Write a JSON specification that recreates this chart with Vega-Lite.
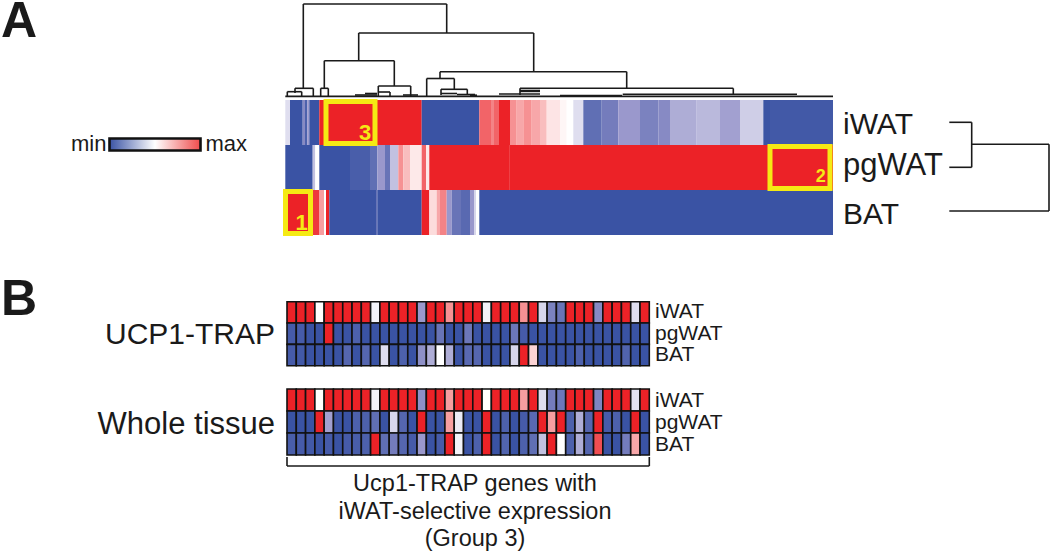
{"$schema":"https://vega.github.io/schema/vega-lite/v6.json","width":1050,"height":551,"padding":0,"autosize":{"type":"none"},"background":"white","config":{"view":{"stroke":null},"text":{"font":"Liberation Sans"}},
"datasets":{
"clusterHeatmap":[
{"tissue":"iWAT","start":-0.7,"end":4,"value":0.42},{"tissue":"iWAT","start":4,"end":16.7,"value":0},{"tissue":"iWAT","start":16.7,"end":19,"value":0.2},{"tissue":"iWAT","start":19,"end":21.3,"value":0.05},{"tissue":"iWAT","start":21.3,"end":23.3,"value":0.25},{"tissue":"iWAT","start":23.3,"end":33.3,"value":0},{"tissue":"iWAT","start":33.3,"end":135.7,"value":1},{"tissue":"iWAT","start":135.7,"end":193.3,"value":0},{"tissue":"iWAT","start":193.3,"end":205,"value":0.85},{"tissue":"iWAT","start":205,"end":208,"value":0.78},{"tissue":"iWAT","start":208,"end":213,"value":0.85},{"tissue":"iWAT","start":213,"end":224,"value":1},{"tissue":"iWAT","start":224,"end":230.7,"value":0.75},{"tissue":"iWAT","start":230.7,"end":237.3,"value":0.7},{"tissue":"iWAT","start":237.3,"end":245.7,"value":0.75},{"tissue":"iWAT","start":245.7,"end":254,"value":0.7},{"tissue":"iWAT","start":254,"end":260.7,"value":0.65},{"tissue":"iWAT","start":260.7,"end":274,"value":0.56},{"tissue":"iWAT","start":274,"end":280.7,"value":0.52},{"tissue":"iWAT","start":280.7,"end":287.3,"value":0.5},{"tissue":"iWAT","start":287.3,"end":297.3,"value":0.42},{"tissue":"iWAT","start":297.3,"end":315.7,"value":0.1},{"tissue":"iWAT","start":315.7,"end":332.3,"value":0.15},{"tissue":"iWAT","start":332.3,"end":354,"value":0.25},{"tissue":"iWAT","start":354,"end":372.3,"value":0.17},{"tissue":"iWAT","start":372.3,"end":384,"value":0.2},{"tissue":"iWAT","start":384,"end":410.7,"value":0.3},{"tissue":"iWAT","start":410.7,"end":434,"value":0.33},{"tissue":"iWAT","start":434,"end":454,"value":0.27},{"tissue":"iWAT","start":454,"end":477.3,"value":0.38},{"tissue":"iWAT","start":477.3,"end":484,"value":0},{"tissue":"iWAT","start":484,"end":547,"value":0.02},
{"tissue":"pgWAT","start":-0.7,"end":26.7,"value":0},{"tissue":"pgWAT","start":26.7,"end":29.3,"value":0.35},{"tissue":"pgWAT","start":29.3,"end":33.3,"value":0.5},{"tissue":"pgWAT","start":33.3,"end":64,"value":0},{"tissue":"pgWAT","start":64,"end":84,"value":0.04},{"tissue":"pgWAT","start":84,"end":91.3,"value":0.1},{"tissue":"pgWAT","start":91.3,"end":99,"value":0.25},{"tissue":"pgWAT","start":99,"end":104,"value":0.12},{"tissue":"pgWAT","start":104,"end":112.3,"value":0.35},{"tissue":"pgWAT","start":112.3,"end":117.3,"value":0.75},{"tissue":"pgWAT","start":117.3,"end":124,"value":0.65},{"tissue":"pgWAT","start":124,"end":135.7,"value":0.55},{"tissue":"pgWAT","start":135.7,"end":140,"value":0.85},{"tissue":"pgWAT","start":140,"end":143.3,"value":0.55},{"tissue":"pgWAT","start":143.3,"end":223,"value":1},{"tissue":"pgWAT","start":223,"end":224,"value":0.93},{"tissue":"pgWAT","start":224,"end":547,"value":1},
{"tissue":"BAT","start":-0.7,"end":26.7,"value":1},{"tissue":"BAT","start":26.7,"end":33,"value":0.95},{"tissue":"BAT","start":33,"end":38,"value":0.72},{"tissue":"BAT","start":38,"end":40,"value":0.5},{"tissue":"BAT","start":40,"end":43.3,"value":1},{"tissue":"BAT","start":43.3,"end":90,"value":0},{"tissue":"BAT","start":90,"end":91.3,"value":0.12},{"tissue":"BAT","start":91.3,"end":135.7,"value":0},{"tissue":"BAT","start":135.7,"end":143.3,"value":1},{"tissue":"BAT","start":143.3,"end":150.7,"value":0.58},{"tissue":"BAT","start":150.7,"end":154,"value":0.7},{"tissue":"BAT","start":154,"end":160.7,"value":0.78},{"tissue":"BAT","start":160.7,"end":165.7,"value":0.25},{"tissue":"BAT","start":165.7,"end":175,"value":0.12},{"tissue":"BAT","start":175,"end":184,"value":0.08},{"tissue":"BAT","start":184,"end":188,"value":0.25},{"tissue":"BAT","start":188,"end":190,"value":0.4},{"tissue":"BAT","start":190,"end":193.3,"value":0.5},{"tissue":"BAT","start":193.3,"end":547,"value":0}],
"geneDendrogram":[
{"a":17.3,"b":160.7,"h1":93,"h2":93},{"a":17.3,"b":17.3,"h1":93,"h2":9},{"a":160.7,"b":160.7,"h1":93,"h2":64},{"a":72.7,"b":247.7,"h1":64,"h2":64},{"a":72.7,"b":72.7,"h1":64,"h2":36.3},{"a":247.7,"b":247.7,"h1":64,"h2":25.3},{"a":38.3,"b":108.3,"h1":36.3,"h2":36.3},{"a":38.3,"b":38.3,"h1":36.3,"h2":9},{"a":108.3,"b":108.3,"h1":36.3,"h2":11},{"a":92.3,"b":124.7,"h1":11,"h2":11},{"a":92.3,"b":92.3,"h1":11,"h2":1},{"a":124.7,"b":124.7,"h1":11,"h2":1},{"a":92.3,"b":104,"h1":5,"h2":5},{"a":104,"b":104,"h1":5,"h2":1},
{"a":154,"b":340.7,"h1":25.3,"h2":25.3},{"a":154,"b":154,"h1":25.3,"h2":18.5},{"a":140.7,"b":168.3,"h1":18.5,"h2":18.5},{"a":140.7,"b":140.7,"h1":18.5,"h2":1},{"a":168.3,"b":168.3,"h1":18.5,"h2":7.7},{"a":155,"b":181.3,"h1":7.7,"h2":7.7},{"a":155,"b":155,"h1":7.7,"h2":2},{"a":181.3,"b":181.3,"h1":7.7,"h2":2},{"a":340.7,"b":340.7,"h1":25.3,"h2":8.7},{"a":234,"b":447.3,"h1":8.7,"h2":8.7},{"a":234,"b":234,"h1":8.7,"h2":2},{"a":447.3,"b":447.3,"h1":8.7,"h2":3},{"a":336.7,"b":511,"h1":2.8,"h2":2.8},{"a":274,"b":336,"h1":1.4,"h2":1.4},
{"a":9,"b":27.3,"h1":8.7,"h2":8.7},{"a":9,"b":9,"h1":8.7,"h2":4},{"a":27.3,"b":27.3,"h1":8.7,"h2":1},{"a":1.3,"b":15.7,"h1":5.3,"h2":5.3},{"a":1.3,"b":1.3,"h1":5.3,"h2":1},{"a":15.7,"b":15.7,"h1":5.3,"h2":1},{"a":34.7,"b":42.3,"h1":8.7,"h2":8.7},{"a":34.7,"b":34.7,"h1":8.7,"h2":1},{"a":42.3,"b":42.3,"h1":8.7,"h2":1},
{"a":69,"b":91,"h1":2,"h2":2},{"a":79,"b":91,"h1":3.5,"h2":3.5},{"a":117,"b":132,"h1":2,"h2":2},{"a":155,"b":171,"h1":3.5,"h2":3.5},{"a":171,"b":189,"h1":2.5,"h2":2.5},{"a":184,"b":191,"h1":1.8,"h2":1.8},{"a":213,"b":254,"h1":3,"h2":3},{"a":234,"b":254,"h1":6.5,"h2":6.5},{"a":234,"b":254,"h1":5.6,"h2":5.6},{"a":-0.7,"b":547,"h1":0.6,"h2":0.6}],
"tissueDendrogram":[{"tissue":"iWAT","a":0,"b":22.4,"y1":0,"y2":0},{"tissue":"pgWAT","a":0,"b":22.4,"y1":45,"y2":45},{"tissue":"join","a":22.4,"b":22.4,"y1":0,"y2":45},{"tissue":"join","a":22.4,"b":99.7,"y1":22,"y2":22},{"tissue":"join","a":99.7,"b":99.7,"y1":22,"y2":88.7},{"tissue":"BAT","a":0,"b":99.7,"y1":88.7,"y2":88.7}],
"ucp1Trap":[
{"tissue":"iWAT","gene":1,"value":1},{"tissue":"iWAT","gene":2,"value":1},{"tissue":"iWAT","gene":3,"value":1},{"tissue":"iWAT","gene":4,"value":0.5},{"tissue":"iWAT","gene":5,"value":1},{"tissue":"iWAT","gene":6,"value":1},{"tissue":"iWAT","gene":7,"value":1},{"tissue":"iWAT","gene":8,"value":1},{"tissue":"iWAT","gene":9,"value":1},{"tissue":"iWAT","gene":10,"value":0.47},{"tissue":"iWAT","gene":11,"value":1},{"tissue":"iWAT","gene":12,"value":1},{"tissue":"iWAT","gene":13,"value":1},{"tissue":"iWAT","gene":14,"value":1},{"tissue":"iWAT","gene":15,"value":0.25},{"tissue":"iWAT","gene":16,"value":1},{"tissue":"iWAT","gene":17,"value":1},{"tissue":"iWAT","gene":18,"value":0.75},{"tissue":"iWAT","gene":19,"value":1},{"tissue":"iWAT","gene":20,"value":1},{"tissue":"iWAT","gene":21,"value":1},{"tissue":"iWAT","gene":22,"value":0.47},{"tissue":"iWAT","gene":23,"value":1},{"tissue":"iWAT","gene":24,"value":1},{"tissue":"iWAT","gene":25,"value":1},{"tissue":"iWAT","gene":26,"value":0.75},{"tissue":"iWAT","gene":27,"value":1},{"tissue":"iWAT","gene":28,"value":0.4},{"tissue":"iWAT","gene":29,"value":0.17},{"tissue":"iWAT","gene":30,"value":0.12},{"tissue":"iWAT","gene":31,"value":1},{"tissue":"iWAT","gene":32,"value":1},{"tissue":"iWAT","gene":33,"value":1},{"tissue":"iWAT","gene":34,"value":0.2},{"tissue":"iWAT","gene":35,"value":1},{"tissue":"iWAT","gene":36,"value":1},{"tissue":"iWAT","gene":37,"value":1},{"tissue":"iWAT","gene":38,"value":0.42},{"tissue":"iWAT","gene":39,"value":1},
{"tissue":"pgWAT","gene":1,"value":0.03},{"tissue":"pgWAT","gene":2,"value":0.03},{"tissue":"pgWAT","gene":3,"value":0},{"tissue":"pgWAT","gene":4,"value":0},{"tissue":"pgWAT","gene":5,"value":1},{"tissue":"pgWAT","gene":6,"value":0},{"tissue":"pgWAT","gene":7,"value":0},{"tissue":"pgWAT","gene":8,"value":0.05},{"tissue":"pgWAT","gene":9,"value":0},{"tissue":"pgWAT","gene":10,"value":0},{"tissue":"pgWAT","gene":11,"value":0},{"tissue":"pgWAT","gene":12,"value":0},{"tissue":"pgWAT","gene":13,"value":0},{"tissue":"pgWAT","gene":14,"value":0},{"tissue":"pgWAT","gene":15,"value":0},{"tissue":"pgWAT","gene":16,"value":0},{"tissue":"pgWAT","gene":17,"value":0.12},{"tissue":"pgWAT","gene":18,"value":0},{"tissue":"pgWAT","gene":19,"value":0},{"tissue":"pgWAT","gene":20,"value":0.13},{"tissue":"pgWAT","gene":21,"value":0},{"tissue":"pgWAT","gene":22,"value":0},{"tissue":"pgWAT","gene":23,"value":0},{"tissue":"pgWAT","gene":24,"value":0},{"tissue":"pgWAT","gene":25,"value":0.13},{"tissue":"pgWAT","gene":26,"value":0.03},{"tissue":"pgWAT","gene":27,"value":0},{"tissue":"pgWAT","gene":28,"value":0},{"tissue":"pgWAT","gene":29,"value":0},{"tissue":"pgWAT","gene":30,"value":0},{"tissue":"pgWAT","gene":31,"value":0},{"tissue":"pgWAT","gene":32,"value":0},{"tissue":"pgWAT","gene":33,"value":0},{"tissue":"pgWAT","gene":34,"value":0},{"tissue":"pgWAT","gene":35,"value":0},{"tissue":"pgWAT","gene":36,"value":0},{"tissue":"pgWAT","gene":37,"value":0},{"tissue":"pgWAT","gene":38,"value":0},{"tissue":"pgWAT","gene":39,"value":0},
{"tissue":"BAT","gene":1,"value":0.03},{"tissue":"BAT","gene":2,"value":0.02},{"tissue":"BAT","gene":3,"value":0},{"tissue":"BAT","gene":4,"value":0},{"tissue":"BAT","gene":5,"value":0},{"tissue":"BAT","gene":6,"value":0},{"tissue":"BAT","gene":7,"value":0.07},{"tissue":"BAT","gene":8,"value":0},{"tissue":"BAT","gene":9,"value":0.07},{"tissue":"BAT","gene":10,"value":0},{"tissue":"BAT","gene":11,"value":0.42},{"tissue":"BAT","gene":12,"value":0},{"tissue":"BAT","gene":13,"value":0.05},{"tissue":"BAT","gene":14,"value":0},{"tissue":"BAT","gene":15,"value":0.22},{"tissue":"BAT","gene":16,"value":0.3},{"tissue":"BAT","gene":17,"value":0.5},{"tissue":"BAT","gene":18,"value":0.3},{"tissue":"BAT","gene":19,"value":0},{"tissue":"BAT","gene":20,"value":0.08},{"tissue":"BAT","gene":21,"value":0.07},{"tissue":"BAT","gene":22,"value":0},{"tissue":"BAT","gene":23,"value":0},{"tissue":"BAT","gene":24,"value":0},{"tissue":"BAT","gene":25,"value":0.4},{"tissue":"BAT","gene":26,"value":1},{"tissue":"BAT","gene":27,"value":0.6},{"tissue":"BAT","gene":28,"value":0},{"tissue":"BAT","gene":29,"value":0},{"tissue":"BAT","gene":30,"value":0},{"tissue":"BAT","gene":31,"value":0},{"tissue":"BAT","gene":32,"value":0.05},{"tissue":"BAT","gene":33,"value":0},{"tissue":"BAT","gene":34,"value":0},{"tissue":"BAT","gene":35,"value":0},{"tissue":"BAT","gene":36,"value":0},{"tissue":"BAT","gene":37,"value":0.06},{"tissue":"BAT","gene":38,"value":0},{"tissue":"BAT","gene":39,"value":0}],
"wholeTissue":[
{"tissue":"iWAT","gene":1,"value":1},{"tissue":"iWAT","gene":2,"value":1},{"tissue":"iWAT","gene":3,"value":1},{"tissue":"iWAT","gene":4,"value":0.5},{"tissue":"iWAT","gene":5,"value":1},{"tissue":"iWAT","gene":6,"value":1},{"tissue":"iWAT","gene":7,"value":1},{"tissue":"iWAT","gene":8,"value":1},{"tissue":"iWAT","gene":9,"value":1},{"tissue":"iWAT","gene":10,"value":0.47},{"tissue":"iWAT","gene":11,"value":1},{"tissue":"iWAT","gene":12,"value":1},{"tissue":"iWAT","gene":13,"value":1},{"tissue":"iWAT","gene":14,"value":1},{"tissue":"iWAT","gene":15,"value":0.22},{"tissue":"iWAT","gene":16,"value":1},{"tissue":"iWAT","gene":17,"value":1},{"tissue":"iWAT","gene":18,"value":0.72},{"tissue":"iWAT","gene":19,"value":1},{"tissue":"iWAT","gene":20,"value":1},{"tissue":"iWAT","gene":21,"value":1},{"tissue":"iWAT","gene":22,"value":0.5},{"tissue":"iWAT","gene":23,"value":1},{"tissue":"iWAT","gene":24,"value":1},{"tissue":"iWAT","gene":25,"value":1},{"tissue":"iWAT","gene":26,"value":0.72},{"tissue":"iWAT","gene":27,"value":1},{"tissue":"iWAT","gene":28,"value":0.42},{"tissue":"iWAT","gene":29,"value":0.15},{"tissue":"iWAT","gene":30,"value":0.13},{"tissue":"iWAT","gene":31,"value":1},{"tissue":"iWAT","gene":32,"value":1},{"tissue":"iWAT","gene":33,"value":1},{"tissue":"iWAT","gene":34,"value":0.18},{"tissue":"iWAT","gene":35,"value":1},{"tissue":"iWAT","gene":36,"value":1},{"tissue":"iWAT","gene":37,"value":1},{"tissue":"iWAT","gene":38,"value":0.43},{"tissue":"iWAT","gene":39,"value":1},
{"tissue":"pgWAT","gene":1,"value":0},{"tissue":"pgWAT","gene":2,"value":0},{"tissue":"pgWAT","gene":3,"value":0},{"tissue":"pgWAT","gene":4,"value":1},{"tissue":"pgWAT","gene":5,"value":0.27},{"tissue":"pgWAT","gene":6,"value":0},{"tissue":"pgWAT","gene":7,"value":0},{"tissue":"pgWAT","gene":8,"value":0.05},{"tissue":"pgWAT","gene":9,"value":0.05},{"tissue":"pgWAT","gene":10,"value":0.1},{"tissue":"pgWAT","gene":11,"value":0},{"tissue":"pgWAT","gene":12,"value":0.4},{"tissue":"pgWAT","gene":13,"value":0.07},{"tissue":"pgWAT","gene":14,"value":0},{"tissue":"pgWAT","gene":15,"value":1},{"tissue":"pgWAT","gene":16,"value":0},{"tissue":"pgWAT","gene":17,"value":0},{"tissue":"pgWAT","gene":18,"value":0.72},{"tissue":"pgWAT","gene":19,"value":0.45},{"tissue":"pgWAT","gene":20,"value":0},{"tissue":"pgWAT","gene":21,"value":0},{"tissue":"pgWAT","gene":22,"value":1},{"tissue":"pgWAT","gene":23,"value":0},{"tissue":"pgWAT","gene":24,"value":0.05},{"tissue":"pgWAT","gene":25,"value":0},{"tissue":"pgWAT","gene":26,"value":0.03},{"tissue":"pgWAT","gene":27,"value":0.08},{"tissue":"pgWAT","gene":28,"value":1},{"tissue":"pgWAT","gene":29,"value":0.72},{"tissue":"pgWAT","gene":30,"value":1},{"tissue":"pgWAT","gene":31,"value":0.05},{"tissue":"pgWAT","gene":32,"value":0.3},{"tissue":"pgWAT","gene":33,"value":0.07},{"tissue":"pgWAT","gene":34,"value":1},{"tissue":"pgWAT","gene":35,"value":0.03},{"tissue":"pgWAT","gene":36,"value":0.05},{"tissue":"pgWAT","gene":37,"value":0},{"tissue":"pgWAT","gene":38,"value":1},{"tissue":"pgWAT","gene":39,"value":0},
{"tissue":"BAT","gene":1,"value":0.04},{"tissue":"BAT","gene":2,"value":0.03},{"tissue":"BAT","gene":3,"value":0.02},{"tissue":"BAT","gene":4,"value":0},{"tissue":"BAT","gene":5,"value":0.03},{"tissue":"BAT","gene":6,"value":0},{"tissue":"BAT","gene":7,"value":0.03},{"tissue":"BAT","gene":8,"value":0.04},{"tissue":"BAT","gene":9,"value":0.05},{"tissue":"BAT","gene":10,"value":1},{"tissue":"BAT","gene":11,"value":0.1},{"tissue":"BAT","gene":12,"value":0.15},{"tissue":"BAT","gene":13,"value":0.07},{"tissue":"BAT","gene":14,"value":0.03},{"tissue":"BAT","gene":15,"value":0.25},{"tissue":"BAT","gene":16,"value":0},{"tissue":"BAT","gene":17,"value":0.03},{"tissue":"BAT","gene":18,"value":1},{"tissue":"BAT","gene":19,"value":0.47},{"tissue":"BAT","gene":20,"value":0},{"tissue":"BAT","gene":21,"value":0.05},{"tissue":"BAT","gene":22,"value":1},{"tissue":"BAT","gene":23,"value":0},{"tissue":"BAT","gene":24,"value":0.06},{"tissue":"BAT","gene":25,"value":0},{"tissue":"BAT","gene":26,"value":0.05},{"tissue":"BAT","gene":27,"value":0.1},{"tissue":"BAT","gene":28,"value":0.35},{"tissue":"BAT","gene":29,"value":1},{"tissue":"BAT","gene":30,"value":0.5},{"tissue":"BAT","gene":31,"value":0.05},{"tissue":"BAT","gene":32,"value":0.3},{"tissue":"BAT","gene":33,"value":0.07},{"tissue":"BAT","gene":34,"value":0.9},{"tissue":"BAT","gene":35,"value":0},{"tissue":"BAT","gene":36,"value":0},{"tissue":"BAT","gene":37,"value":0.15},{"tissue":"BAT","gene":38,"value":0.7},{"tissue":"BAT","gene":39,"value":0}]
},
"resolve":{"scale":{"x":"independent","y":"independent"}},
"layer":[
{"data":{"name":"clusterHeatmap"},"mark":{"type":"rect"},"encoding":{
"x":{"field":"start","type":"quantitative","axis":null,"scale":{"domain":[0,547],"range":[286,833],"nice":false,"zero":false}},"x2":{"field":"end"},
"y":{"field":"tissue","type":"nominal","axis":null,"scale":{"domain":["iWAT","pgWAT","BAT"],"range":[100,235],"paddingInner":0,"paddingOuter":0}},
"color":{"field":"value","type":"quantitative","legend":null,"scale":{"domain":[0,0.25,0.5,1],"range":["#3a53a4","#9a98cc","#ffffff","#ec2227"],"interpolate":"rgb"}}}},
{"data":{"values":[{"tissue":"iWAT","start":40,"end":89},{"tissue":"pgWAT","start":484,"end":544},{"tissue":"BAT","start":-0.5,"end":24.5}]},"mark":{"type":"rect","fill":null,"stroke":"#f5ea14","strokeWidth":5,"height":42},"encoding":{
"x":{"field":"start","type":"quantitative","axis":null,"scale":{"domain":[0,547],"range":[286,833],"nice":false,"zero":false}},"x2":{"field":"end"},
"y":{"field":"tissue","type":"nominal","axis":null,"scale":{"domain":["iWAT","pgWAT","BAT"],"range":[100,235],"paddingInner":0,"paddingOuter":0}}}},
{"data":{"values":[{"tissue":"iWAT","rank":79,"box":"3"},{"tissue":"BAT","rank":15.7,"box":"1"}]},"mark":{"type":"text","fontSize":22,"fontWeight":"bold","color":"#f5ea14","dy":10,"baseline":"middle","align":"center"},"encoding":{
"x":{"field":"rank","type":"quantitative","axis":null,"scale":{"domain":[0,547],"range":[286,833],"nice":false,"zero":false}},
"y":{"field":"tissue","type":"nominal","axis":null,"scale":{"domain":["iWAT","pgWAT","BAT"],"range":[100,235],"paddingInner":0,"paddingOuter":0}},
"text":{"field":"box"}}},
{"data":{"values":[{"tissue":"pgWAT","rank":534.7,"box":"2"}]},"mark":{"type":"text","fontSize":18,"fontWeight":"bold","color":"#f5ea14","dy":9,"baseline":"middle","align":"center"},"encoding":{
"x":{"field":"rank","type":"quantitative","axis":null,"scale":{"domain":[0,547],"range":[286,833],"nice":false,"zero":false}},
"y":{"field":"tissue","type":"nominal","axis":null,"scale":{"domain":["iWAT","pgWAT","BAT"],"range":[100,235],"paddingInner":0,"paddingOuter":0}},
"text":{"field":"box"}}},
{"data":{"values":[{"tissue":"iWAT"},{"tissue":"BAT"}]},"mark":{"type":"text","fontSize":30,"color":"#1a1a1a","align":"left","baseline":"middle","dy":2},"encoding":{
"x":{"datum":557,"type":"quantitative","axis":null,"scale":{"domain":[0,547],"range":[286,833],"nice":false,"zero":false}},
"y":{"field":"tissue","type":"nominal","axis":null,"scale":{"domain":["iWAT","pgWAT","BAT"],"range":[100,235],"paddingInner":0,"paddingOuter":0}},
"text":{"field":"tissue"}}},
{"data":{"values":[{"tissue":"pgWAT"}]},"mark":{"type":"text","fontSize":31,"color":"#1a1a1a","align":"left","baseline":"middle","dy":-2},"encoding":{
"x":{"datum":557,"type":"quantitative","axis":null,"scale":{"domain":[0,547],"range":[286,833],"nice":false,"zero":false}},
"y":{"field":"tissue","type":"nominal","axis":null,"scale":{"domain":["iWAT","pgWAT","BAT"],"range":[100,235],"paddingInner":0,"paddingOuter":0}},
"text":{"field":"tissue"}}},
{"data":{"name":"geneDendrogram"},"mark":{"type":"rule","color":"#1a1a1a","strokeWidth":1.6},"encoding":{
"x":{"field":"a","type":"quantitative","axis":null,"scale":{"domain":[0,547],"range":[286,833],"nice":false,"zero":false}},"x2":{"field":"b"},
"y":{"field":"h1","type":"quantitative","axis":null,"scale":{"domain":[0,93],"range":[97,4],"nice":false,"zero":false}},"y2":{"field":"h2"}}},
{"data":{"name":"tissueDendrogram"},"mark":{"type":"rule","color":"#1a1a1a","strokeWidth":1.6},"encoding":{
"x":{"field":"a","type":"quantitative","axis":null,"scale":{"domain":[0,100],"range":[949.3,1049.3],"nice":false,"zero":false}},"x2":{"field":"b"},
"y":{"field":"y1","type":"quantitative","axis":null,"scale":{"domain":[0,88.7],"range":[122.3,211],"nice":false,"zero":false}},"y2":{"field":"y2"}}},
{"data":{"values":[{"low":0,"high":1}]},"mark":{"type":"rect","stroke":"#111111","strokeWidth":2.6,"fill":{"gradient":"linear","x1":0,"x2":1,"y1":0,"y2":0,"stops":[{"offset":0,"color":"#3a53a4"},{"offset":0.5,"color":"#ffffff"},{"offset":1,"color":"#ef4b4b"}]}},"encoding":{
"x":{"field":"low","type":"quantitative","axis":null,"scale":{"domain":[0,1],"range":[109.5,200.5],"nice":false,"zero":false}},"x2":{"field":"high"},
"y":{"datum":0,"type":"quantitative","axis":null,"scale":{"domain":[0,1],"range":[150.5,138.5],"nice":false,"zero":false}},"y2":{"datum":1}}},
{"data":{"values":[{"end":0,"label":"min"}]},"mark":{"type":"text","fontSize":22,"color":"#1a1a1a","align":"right","baseline":"middle","dx":-3},"encoding":{
"x":{"field":"end","type":"quantitative","axis":null,"scale":{"domain":[0,1],"range":[109.5,200.5],"nice":false,"zero":false}},
"y":{"datum":0.5,"type":"quantitative","axis":null,"scale":{"domain":[0,1],"range":[149,139],"nice":false,"zero":false}},"text":{"field":"label"}}},
{"data":{"values":[{"end":1,"label":"max"}]},"mark":{"type":"text","fontSize":22,"color":"#1a1a1a","align":"left","baseline":"middle","dx":5},"encoding":{
"x":{"field":"end","type":"quantitative","axis":null,"scale":{"domain":[0,1],"range":[109.5,200.5],"nice":false,"zero":false}},
"y":{"datum":0.5,"type":"quantitative","axis":null,"scale":{"domain":[0,1],"range":[149,139],"nice":false,"zero":false}},"text":{"field":"label"}}},
{"data":{"name":"ucp1Trap"},"mark":{"type":"rect","stroke":"#111111","strokeWidth":1.6},"encoding":{
"x":{"field":"gene","type":"ordinal","axis":null,"scale":{"range":[287,649.3],"paddingInner":0,"paddingOuter":0}},
"y":{"field":"tissue","type":"nominal","axis":null,"scale":{"domain":["iWAT","pgWAT","BAT"],"range":[301.7,365.7],"paddingInner":0,"paddingOuter":0}},
"color":{"field":"value","type":"quantitative","legend":null,"scale":{"domain":[0,0.25,0.5,1],"range":["#3a53a4","#9a98cc","#ffffff","#ec2227"],"interpolate":"rgb"}}}},
{"data":{"name":"wholeTissue"},"mark":{"type":"rect","stroke":"#111111","strokeWidth":1.6},"encoding":{
"x":{"field":"gene","type":"ordinal","axis":null,"scale":{"range":[287,649.3],"paddingInner":0,"paddingOuter":0}},
"y":{"field":"tissue","type":"nominal","axis":null,"scale":{"domain":["iWAT","pgWAT","BAT"],"range":[389,455],"paddingInner":0,"paddingOuter":0}},
"color":{"field":"value","type":"quantitative","legend":null,"scale":{"domain":[0,0.25,0.5,1],"range":["#3a53a4","#9a98cc","#ffffff","#ec2227"],"interpolate":"rgb"}}}},
{"data":{"values":[{"tissue":"iWAT"},{"tissue":"pgWAT"},{"tissue":"BAT"}]},"mark":{"type":"text","fontSize":21,"color":"#1a1a1a","align":"left","baseline":"middle"},"encoding":{
"x":{"datum":0,"type":"quantitative","axis":null,"scale":{"domain":[0,1],"range":[655,700],"nice":false,"zero":false}},
"y":{"field":"tissue","type":"nominal","axis":null,"scale":{"domain":["iWAT","pgWAT","BAT"],"range":[301.7,365.7],"paddingInner":0,"paddingOuter":0}},
"text":{"field":"tissue"}}},
{"data":{"values":[{"tissue":"iWAT"},{"tissue":"pgWAT"},{"tissue":"BAT"}]},"mark":{"type":"text","fontSize":21,"color":"#1a1a1a","align":"left","baseline":"middle"},"encoding":{
"x":{"datum":0,"type":"quantitative","axis":null,"scale":{"domain":[0,1],"range":[655,700],"nice":false,"zero":false}},
"y":{"field":"tissue","type":"nominal","axis":null,"scale":{"domain":["iWAT","pgWAT","BAT"],"range":[390,456],"paddingInner":0,"paddingOuter":0}},
"text":{"field":"tissue"}}},
{"data":{"values":[{"dataset":"UCP1-TRAP"}]},"mark":{"type":"text","fontSize":30,"color":"#1a1a1a","align":"right","baseline":"middle"},"encoding":{
"x":{"datum":0,"type":"quantitative","axis":null,"scale":{"domain":[0,1],"range":[275,300],"nice":false,"zero":false}},
"y":{"datum":0,"type":"quantitative","axis":null,"scale":{"domain":[0,1],"range":[335,425],"nice":false,"zero":false}},
"text":{"field":"dataset"}}},
{"data":{"values":[{"dataset":"Whole tissue"}]},"mark":{"type":"text","fontSize":31,"color":"#1a1a1a","align":"right","baseline":"middle"},"encoding":{
"x":{"datum":0,"type":"quantitative","axis":null,"scale":{"domain":[0,1],"range":[275,300],"nice":false,"zero":false}},
"y":{"datum":1,"type":"quantitative","axis":null,"scale":{"domain":[0,1],"range":[335,425],"nice":false,"zero":false}},
"text":{"field":"dataset"}}},
{"data":{"values":[{"a":0,"b":0,"h1":0,"h2":1},{"a":0,"b":39,"h1":1,"h2":1},{"a":39,"b":39,"h1":0,"h2":1}]},"mark":{"type":"rule","color":"#1a1a1a","strokeWidth":1.6},"encoding":{
"x":{"field":"a","type":"quantitative","axis":null,"scale":{"domain":[0,39],"range":[287,649.3],"nice":false,"zero":false}},"x2":{"field":"b"},
"y":{"field":"h1","type":"quantitative","axis":null,"scale":{"domain":[0,1],"range":[457,466],"nice":false,"zero":false}},"y2":{"field":"h2"}}},
{"data":{"values":[{"line":1,"caption":"Ucp1-TRAP genes with"},{"line":2,"caption":"iWAT-selective expression"},{"line":3,"caption":"(Group 3)"}]},"mark":{"type":"text","fontSize":23.5,"color":"#1a1a1a","align":"center","baseline":"middle"},"encoding":{
"x":{"datum":20.24,"type":"quantitative","axis":null,"scale":{"domain":[0,39],"range":[287,649.3],"nice":false,"zero":false}},
"y":{"field":"line","type":"ordinal","axis":null,"scale":{"type":"point","range":[484,539],"padding":0}},
"text":{"field":"caption"}}},
{"data":{"values":[{"panel":"A"},{"panel":"B"}]},"mark":{"type":"text","fontSize":50,"fontWeight":"bold","color":"#1a1a1a","align":"left","baseline":"alphabetic"},"encoding":{
"x":{"datum":0,"type":"quantitative","axis":null,"scale":{"domain":[0,1],"range":[1,50],"nice":false,"zero":false}},
"y":{"field":"panel","type":"nominal","axis":null,"scale":{"type":"point","domain":["A","B"],"range":[37,315],"padding":0}},
"text":{"field":"panel"}}}
]}
